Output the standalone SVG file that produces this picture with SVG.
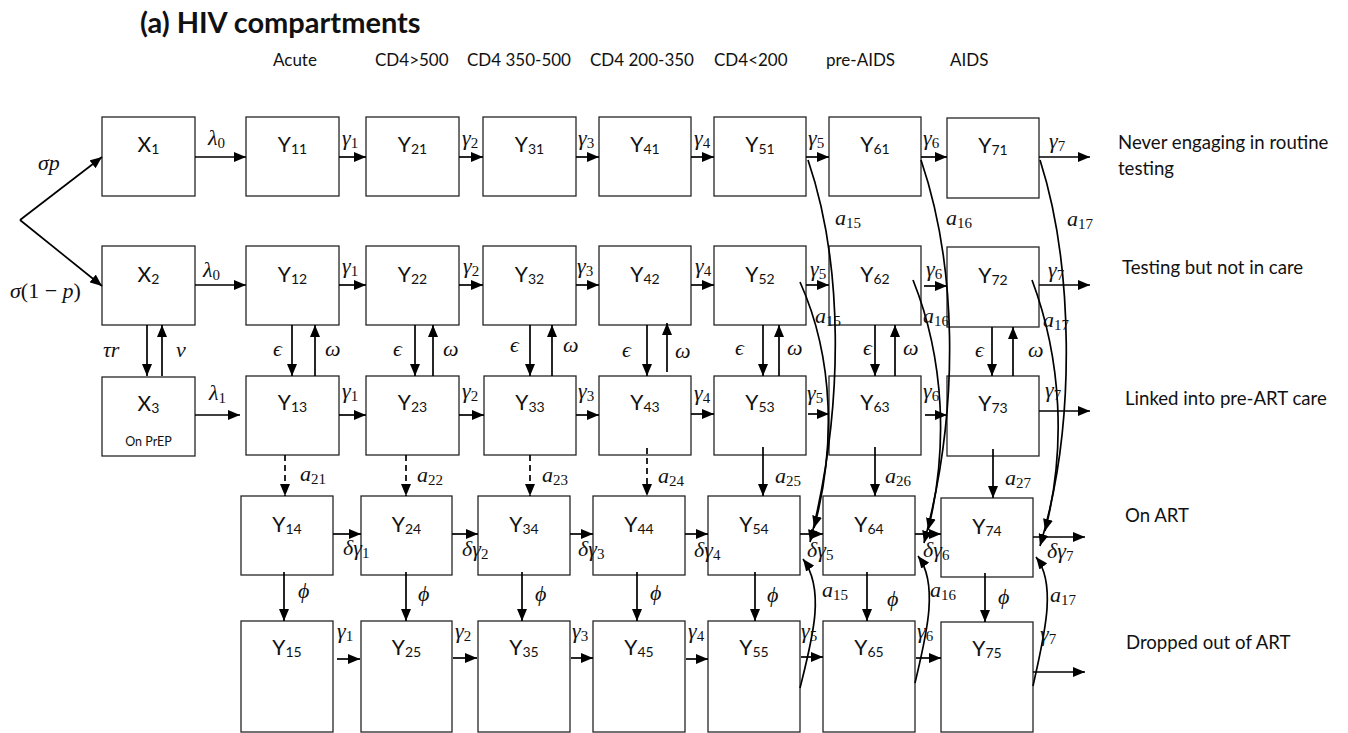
<svg xmlns="http://www.w3.org/2000/svg" width="1348" height="733" viewBox="0 0 1348 733">
<defs>
<marker id="ah" markerUnits="userSpaceOnUse" markerWidth="12" markerHeight="10" refX="12" refY="5" orient="auto">
<path d="M0,0 L12,5 L0,10 z" fill="#000"/>
</marker>
<style>
.box{fill:#fff;stroke:#262626;stroke-width:1.3}
.lbl{font-family:Lato,"Liberation Sans",sans-serif;font-size:21px;fill:#111;text-anchor:middle}
.lbl .s{font-size:14px}
.t{font-family:Lato,"Liberation Sans",sans-serif;font-size:18.6px;fill:#111}
.h{font-family:Lato,"Liberation Sans",sans-serif;font-size:17px;fill:#111}
.ttl{font-family:Lato,"Liberation Sans",sans-serif;font-size:29px;font-weight:bold;fill:#111}
.m{font-family:"Liberation Serif",serif;font-style:italic;font-size:22px;fill:#111}
.m .s{font-style:normal;font-size:15px}
.m .u{font-style:normal}
.e{stroke:#000;stroke-width:1.7;fill:none;marker-end:url(#ah)}
.d{stroke-dasharray:6 4}
</style>
</defs>
<rect width="1348" height="733" fill="#fff"/>
<text class="ttl" x="140" y="33">(a) HIV compartments</text>
<g class="h">
<text x="273" y="66">Acute</text>
<text x="375" y="66">CD4&gt;500</text>
<text x="467" y="66">CD4 350-500</text>
<text x="590" y="66">CD4 200-350</text>
<text x="714" y="66">CD4&lt;200</text>
<text x="826" y="66">pre-AIDS</text>
<text x="950" y="66">AIDS</text>
</g>
<g class="t">
<text x="1118" y="149">Never engaging in routine</text>
<text x="1118" y="175">testing</text>
<text x="1122" y="274">Testing but not in care</text>
<text x="1125" y="405">Linked into pre-ART care</text>
<text x="1125" y="522">On ART</text>
<text x="1126" y="649">Dropped out of ART</text>
</g>

<!-- Row 1 -->
<g id="X1"><rect class="box" x="102" y="117" width="93" height="79"/><text class="lbl" x="148.5" y="152">X<tspan class="s" dy="2">1</tspan></text></g>
<g id="Y11"><rect class="box" x="246" y="117" width="93" height="79"/><text class="lbl" x="292.5" y="152">Y<tspan class="s" dy="2">11</tspan></text></g>
<g id="Y21"><rect class="box" x="366" y="117" width="93" height="79"/><text class="lbl" x="412.5" y="152">Y<tspan class="s" dy="2">21</tspan></text></g>
<g id="Y31"><rect class="box" x="483" y="117" width="93" height="79"/><text class="lbl" x="529.5" y="152">Y<tspan class="s" dy="2">31</tspan></text></g>
<g id="Y41"><rect class="box" x="599" y="117" width="92" height="79"/><text class="lbl" x="645" y="152">Y<tspan class="s" dy="2">41</tspan></text></g>
<g id="Y51"><rect class="box" x="714" y="117" width="92" height="79"/><text class="lbl" x="760" y="152">Y<tspan class="s" dy="2">51</tspan></text></g>
<g id="Y61"><rect class="box" x="829" y="117" width="92" height="79"/><text class="lbl" x="875" y="152">Y<tspan class="s" dy="2">61</tspan></text></g>
<g id="Y71"><rect class="box" x="947" y="118" width="92" height="80"/><text class="lbl" x="993" y="153">Y<tspan class="s" dy="2">71</tspan></text></g>

<!-- Row 2 -->
<g id="X2"><rect class="box" x="102" y="246" width="93" height="79"/><text class="lbl" x="148.5" y="282">X<tspan class="s" dy="2">2</tspan></text></g>
<g id="Y12"><rect class="box" x="246" y="246" width="93" height="79"/><text class="lbl" x="292.5" y="282">Y<tspan class="s" dy="2">12</tspan></text></g>
<g id="Y22"><rect class="box" x="366" y="246" width="93" height="79"/><text class="lbl" x="412.5" y="282">Y<tspan class="s" dy="2">22</tspan></text></g>
<g id="Y32"><rect class="box" x="483" y="246" width="93" height="79"/><text class="lbl" x="529.5" y="282">Y<tspan class="s" dy="2">32</tspan></text></g>
<g id="Y42"><rect class="box" x="599" y="246" width="92" height="79"/><text class="lbl" x="645" y="282">Y<tspan class="s" dy="2">42</tspan></text></g>
<g id="Y52"><rect class="box" x="714" y="246" width="92" height="79"/><text class="lbl" x="760" y="282">Y<tspan class="s" dy="2">52</tspan></text></g>
<g id="Y62"><rect class="box" x="829" y="246" width="92" height="79"/><text class="lbl" x="875" y="282">Y<tspan class="s" dy="2">62</tspan></text></g>
<g id="Y72"><rect class="box" x="947" y="247" width="92" height="80"/><text class="lbl" x="993" y="283">Y<tspan class="s" dy="2">72</tspan></text></g>

<!-- Row 3 -->
<g id="X3"><rect class="box" x="102" y="377" width="93" height="79"/><text class="lbl" x="148.5" y="411">X<tspan class="s" dy="2">3</tspan></text><text x="148.5" y="446" style="font-family:Lato,'Liberation Sans',sans-serif;font-size:12.5px;text-anchor:middle;fill:#111">On PrEP</text></g>
<g id="Y13"><rect class="box" x="246" y="376" width="93" height="79"/><text class="lbl" x="292.5" y="410">Y<tspan class="s" dy="2">13</tspan></text></g>
<g id="Y23"><rect class="box" x="366" y="376" width="93" height="79"/><text class="lbl" x="412.5" y="410">Y<tspan class="s" dy="2">23</tspan></text></g>
<g id="Y33"><rect class="box" x="484" y="376" width="92" height="79"/><text class="lbl" x="530" y="410">Y<tspan class="s" dy="2">33</tspan></text></g>
<g id="Y43"><rect class="box" x="599" y="376" width="92" height="79"/><text class="lbl" x="645" y="410">Y<tspan class="s" dy="2">43</tspan></text></g>
<g id="Y53"><rect class="box" x="714" y="376" width="92" height="79"/><text class="lbl" x="760" y="410">Y<tspan class="s" dy="2">53</tspan></text></g>
<g id="Y63"><rect class="box" x="829" y="376" width="92" height="79"/><text class="lbl" x="875" y="410">Y<tspan class="s" dy="2">63</tspan></text></g>
<g id="Y73"><rect class="box" x="947" y="376" width="92" height="80"/><text class="lbl" x="993" y="411">Y<tspan class="s" dy="2">73</tspan></text></g>

<!-- Row 4 -->
<g id="Y14"><rect class="box" x="241" y="496" width="92" height="79"/><text class="lbl" x="287" y="532">Y<tspan class="s" dy="2">14</tspan></text></g>
<g id="Y24"><rect class="box" x="361" y="496" width="91" height="79"/><text class="lbl" x="406.5" y="532">Y<tspan class="s" dy="2">24</tspan></text></g>
<g id="Y34"><rect class="box" x="478" y="496" width="92" height="79"/><text class="lbl" x="524" y="532">Y<tspan class="s" dy="2">34</tspan></text></g>
<g id="Y44"><rect class="box" x="593" y="496" width="92" height="79"/><text class="lbl" x="639" y="532">Y<tspan class="s" dy="2">44</tspan></text></g>
<g id="Y54"><rect class="box" x="708" y="496" width="92" height="79"/><text class="lbl" x="754" y="532">Y<tspan class="s" dy="2">54</tspan></text></g>
<g id="Y64"><rect class="box" x="823" y="496" width="92" height="79"/><text class="lbl" x="869" y="532">Y<tspan class="s" dy="2">64</tspan></text></g>
<g id="Y74"><rect class="box" x="941" y="498" width="92" height="79"/><text class="lbl" x="987" y="534">Y<tspan class="s" dy="2">74</tspan></text></g>

<!-- Row 5 -->
<g id="Y15"><rect class="box" x="241" y="621" width="92" height="111"/><text class="lbl" x="287" y="655">Y<tspan class="s" dy="2">15</tspan></text></g>
<g id="Y25"><rect class="box" x="361" y="621" width="91" height="111"/><text class="lbl" x="406.5" y="655">Y<tspan class="s" dy="2">25</tspan></text></g>
<g id="Y35"><rect class="box" x="478" y="621" width="92" height="111"/><text class="lbl" x="524" y="655">Y<tspan class="s" dy="2">35</tspan></text></g>
<g id="Y45"><rect class="box" x="593" y="621" width="92" height="111"/><text class="lbl" x="639" y="655">Y<tspan class="s" dy="2">45</tspan></text></g>
<g id="Y55"><rect class="box" x="708" y="621" width="92" height="111"/><text class="lbl" x="754" y="655">Y<tspan class="s" dy="2">55</tspan></text></g>
<g id="Y65"><rect class="box" x="823" y="621" width="92" height="111"/><text class="lbl" x="869" y="655">Y<tspan class="s" dy="2">65</tspan></text></g>
<g id="Y75"><rect class="box" x="941" y="622" width="92" height="110"/><text class="lbl" x="987" y="656">Y<tspan class="s" dy="2">75</tspan></text></g>

<g id="connectors">
<path class="e" d="M20,220 L102,157"/>
<path class="e" d="M20,220 L102,286"/>
<path class="e" d="M195,157 H246"/><path class="e" d="M339,157 H366"/><path class="e" d="M459,157 H483"/><path class="e" d="M576,157 H599"/>
<path class="e" d="M691,157 H714"/><path class="e" d="M806,157 H829"/><path class="e" d="M921,157 H947"/><path class="e" d="M1039,157 H1090"/>
<path class="e" d="M195,285 H246"/><path class="e" d="M339,285 H366"/><path class="e" d="M459,285 H483"/><path class="e" d="M576,285 H599"/>
<path class="e" d="M691,285 H714"/><path class="e" d="M806,285 H829"/><path class="e" d="M924,286 H947"/><path class="e" d="M1039,285 H1090"/>
<path class="e" d="M195,415 H240"/><path class="e" d="M339,415 H366"/><path class="e" d="M459,415 H484"/><path class="e" d="M576,415 H599"/>
<path class="e" d="M691,414 H714"/><path class="e" d="M808,414 H829"/><path class="e" d="M925,415 H947"/><path class="e" d="M1039,411 H1090"/>
<path class="e" d="M333,534 H361"/><path class="e" d="M452,534 H478"/><path class="e" d="M570,534 H593"/><path class="e" d="M685,534 H708"/>
<path class="e" d="M800,534 H823"/><path class="e" d="M915,534 H941"/><path class="e" d="M1033,537 H1085"/>
<path class="e" d="M337,659 H360"/><path class="e" d="M453,658 H477"/><path class="e" d="M571,658 H593"/><path class="e" d="M686,659 H708"/>
<path class="e" d="M801,657 H823"/><path class="e" d="M916,658 H941"/><path class="e" d="M1033,672 H1085"/>
<path class="e" d="M147,325 V376"/><path class="e" d="M162,376 V325"/>
<path class="e" d="M292,325 V376"/><path class="e" d="M315,376 V325"/>
<path class="e" d="M415,325 V376"/><path class="e" d="M433,376 V325"/>
<path class="e" d="M530,325 V376"/><path class="e" d="M552,376 V325"/>
<path class="e" d="M647,325 V376"/><path class="e" d="M667,372 V323"/>
<path class="e" d="M763,325 V376"/><path class="e" d="M779,376 V325"/>
<path class="e" d="M875,325 V376"/><path class="e" d="M895,376 V325"/>
<path class="e" d="M992,327 V376"/><path class="e" d="M1013,376 V327"/>
<path class="e d" d="M285,455 V496"/><path class="e d" d="M406,455 V496"/><path class="e d" d="M530,455 V496"/><path class="e d" d="M647,448 V496"/>
<path class="e" d="M763,447 V496"/><path class="e" d="M875,447 V496"/><path class="e" d="M993,449 V498"/>
<path class="e" d="M284,572 V621"/><path class="e" d="M406,572 V621"/><path class="e" d="M522,572 V621"/><path class="e" d="M637,572 V621"/>
<path class="e" d="M755,572 V621"/><path class="e" d="M867,572 V621"/><path class="e" d="M985,573 V622"/>
<path class="e" d="M808,160 C842,260 846,400 810,542"/>
<path class="e" d="M800,282 C835,360 835,450 814,528"/>
<path class="e" d="M921,160 C955,260 962,400 924,543"/>
<path class="e" d="M913,280 C945,360 948,450 928,530"/>
<path class="e" d="M1040,160 C1072,260 1078,420 1040,546"/>
<path class="e" d="M1032,280 C1062,360 1066,450 1045,531"/>
<path class="e" d="M800,688 C812,640 826,590 803,559"/>
<path class="e" d="M915,683 C925,640 940,585 918,556"/>
<path class="e" d="M1033,686 C1043,640 1058,585 1036,557"/>
</g>

<g id="labels" class="m">
<text x="38" y="170">σp</text>
<text x="10" y="298">σ<tspan class="u">(1 − </tspan>p<tspan class="u">)</tspan></text>
<text x="208" y="145">λ<tspan class="s" dy="3">0</tspan></text>
<text x="203" y="277">λ<tspan class="s" dy="3">0</tspan></text>
<text x="209" y="400">λ<tspan class="s" dy="3">1</tspan></text>
<text x="342" y="145">γ<tspan class="s" dy="3">1</tspan></text>
<text x="462" y="145">γ<tspan class="s" dy="3">2</tspan></text>
<text x="578" y="145">γ<tspan class="s" dy="3">3</tspan></text>
<text x="694" y="145">γ<tspan class="s" dy="3">4</tspan></text>
<text x="808" y="145">γ<tspan class="s" dy="3">5</tspan></text>
<text x="923" y="145">γ<tspan class="s" dy="3">6</tspan></text>
<text x="1049" y="148">γ<tspan class="s" dy="3">7</tspan></text>
<text x="342" y="273">γ<tspan class="s" dy="3">1</tspan></text>
<text x="463" y="273">γ<tspan class="s" dy="3">2</tspan></text>
<text x="577" y="273">γ<tspan class="s" dy="3">3</tspan></text>
<text x="695" y="273">γ<tspan class="s" dy="3">4</tspan></text>
<text x="810" y="276">γ<tspan class="s" dy="3">5</tspan></text>
<text x="926" y="276">γ<tspan class="s" dy="3">6</tspan></text>
<text x="1048" y="277">γ<tspan class="s" dy="3">7</tspan></text>
<text x="342" y="398">γ<tspan class="s" dy="3">1</tspan></text>
<text x="462" y="398">γ<tspan class="s" dy="3">2</tspan></text>
<text x="578" y="398">γ<tspan class="s" dy="3">3</tspan></text>
<text x="694" y="400">γ<tspan class="s" dy="3">4</tspan></text>
<text x="807" y="400">γ<tspan class="s" dy="3">5</tspan></text>
<text x="923" y="398">γ<tspan class="s" dy="3">6</tspan></text>
<text x="1045" y="397">γ<tspan class="s" dy="3">7</tspan></text>
<text x="343" y="555">δγ<tspan class="s" dy="3">1</tspan></text>
<text x="462" y="556">δγ<tspan class="s" dy="3">2</tspan></text>
<text x="578" y="556">δγ<tspan class="s" dy="3">3</tspan></text>
<text x="694" y="557">δγ<tspan class="s" dy="3">4</tspan></text>
<text x="807" y="557">δγ<tspan class="s" dy="3">5</tspan></text>
<text x="923" y="557">δγ<tspan class="s" dy="3">6</tspan></text>
<text x="1047" y="558">δγ<tspan class="s" dy="3">7</tspan></text>
<text x="337" y="638">γ<tspan class="s" dy="3">1</tspan></text>
<text x="455" y="638">γ<tspan class="s" dy="3">2</tspan></text>
<text x="572" y="638">γ<tspan class="s" dy="3">3</tspan></text>
<text x="688" y="638">γ<tspan class="s" dy="3">4</tspan></text>
<text x="801" y="638">γ<tspan class="s" dy="3">5</tspan></text>
<text x="917" y="638">γ<tspan class="s" dy="3">6</tspan></text>
<text x="1040" y="641">γ<tspan class="s" dy="3">7</tspan></text>
<text x="103" y="357">τr</text>
<text x="176" y="357">ν</text>
<text x="273" y="356">ϵ</text><text x="325" y="356">ω</text>
<text x="393" y="356">ϵ</text><text x="443" y="356">ω</text>
<text x="510" y="352">ϵ</text><text x="563" y="352">ω</text>
<text x="622" y="357">ϵ</text><text x="675" y="358">ω</text>
<text x="735" y="355">ϵ</text><text x="787" y="355">ω</text>
<text x="863" y="355">ϵ</text><text x="903" y="355">ω</text>
<text x="975" y="357">ϵ</text><text x="1028" y="357">ω</text>
<text x="300" y="481">a<tspan class="s" dy="3">21</tspan></text>
<text x="417" y="482">a<tspan class="s" dy="3">22</tspan></text>
<text x="542" y="482">a<tspan class="s" dy="3">23</tspan></text>
<text x="658" y="483">a<tspan class="s" dy="3">24</tspan></text>
<text x="775" y="483">a<tspan class="s" dy="3">25</tspan></text>
<text x="885" y="483">a<tspan class="s" dy="3">26</tspan></text>
<text x="1005" y="485">a<tspan class="s" dy="3">27</tspan></text>
<text x="298" y="598">ϕ</text>
<text x="418" y="601">ϕ</text>
<text x="535" y="601">ϕ</text>
<text x="650" y="600">ϕ</text>
<text x="767" y="602">ϕ</text>
<text x="887" y="606">ϕ</text>
<text x="998" y="604">ϕ</text>
<text x="835" y="225">a<tspan class="s" dy="3">15</tspan></text>
<text x="946" y="225">a<tspan class="s" dy="3">16</tspan></text>
<text x="1067" y="226">a<tspan class="s" dy="3">17</tspan></text>
<text x="815" y="323">a<tspan class="s" dy="3">15</tspan></text>
<text x="923" y="323">a<tspan class="s" dy="3">16</tspan></text>
<text x="1043" y="327">a<tspan class="s" dy="3">17</tspan></text>
<text x="822" y="597">a<tspan class="s" dy="3">15</tspan></text>
<text x="930" y="597">a<tspan class="s" dy="3">16</tspan></text>
<text x="1050" y="602">a<tspan class="s" dy="3">17</tspan></text>
</g>
</svg>
